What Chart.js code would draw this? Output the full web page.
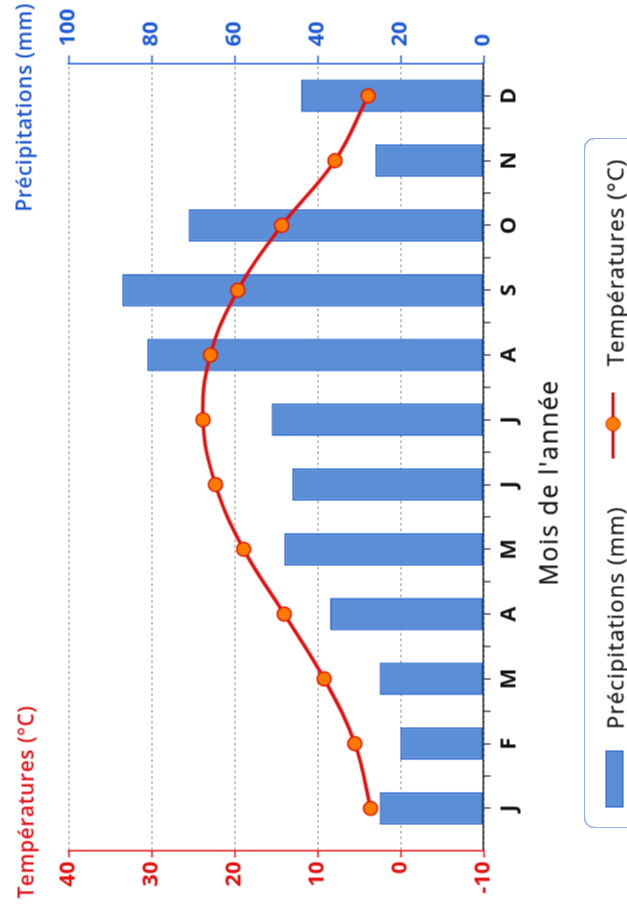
<!DOCTYPE html>
<html>
<head>
<meta charset="utf-8">
<script src="https://cdn.jsdelivr.net/npm/chart.js@4.4.1/dist/chart.umd.min.js"></script>
<style>
  html, body { margin: 0; padding: 0; background: #fff; overflow: hidden; width: 627px; height: 920px; }
  #wrap { position: absolute; left: -146.5px; top: 146.5px; width: 920px; height: 627px;
          transform: rotate(-90deg); overflow: hidden; background: #fff;
          font-family: "Open Sans", "DejaVu Sans", sans-serif; }
  #c { display: block; }
  .ttl { position: absolute; font-size: 21px; line-height: 25px; font-weight: 600; letter-spacing: 0.5px; white-space: nowrap; }
  #xtitle { position: absolute; left: 238px; width: 400px; top: 532px; text-align: center;
            font-size: 25px; line-height: 30px; letter-spacing: 1.6px; color: #111; white-space: nowrap; -webkit-text-stroke: 0.3px #111; }
  #legend { position: absolute; left: 92px; top: 583px; width: 691px; height: 90px;
            border: 1.5px solid #2b66d2; border-radius: 12px; box-sizing: border-box; }
  #legend .txt { position: absolute; top: 16.5px; font-size: 22px; line-height: 26px; letter-spacing: 1.2px; color: #151515; white-space: nowrap; -webkit-text-stroke: 0.3px #151515; }
</style>
</head>
<body>
<div id="wrap">
  <canvas id="c" width="920" height="627"></canvas>
  <div class="ttl" style="left:22px; top:12.5px; color:#e3141b;">Températures (°C)</div>
  <div class="ttl" style="right:2.5px; top:10.5px; color:#1f58d2;">Précipitations (mm)</div>
  <div id="xtitle">Mois de l'année</div>
  <div id="legend">
    <span style="position:absolute; left:20px; top:20.5px; width:57px; height:18px; background:#5a8fd8; border:1.5px solid #1e5cc8; box-sizing:border-box;"></span>
    <span class="txt" style="left:98.5px;">Précipitations (mm)</span>
    <span style="position:absolute; left:368.5px; top:27px; width:66px; height:3px; background:#e01010;"></span>
    <span style="position:absolute; left:396px; top:21px; width:15px; height:15px; border-radius:50%; background:#ff7b00; border:1.5px solid #e01a00; box-sizing:border-box;"></span>
    <span class="txt" style="left:461.5px;">Températures (°C)</span>
  </div>
</div>
<script>
const months = ['J', 'F', 'M', 'A', 'M', 'J', 'J', 'A', 'S', 'O', 'N', 'D'];
const precipitation = [25, 20, 25, 37, 48, 46, 51, 81, 87, 71, 26, 44];
const temperature = [3.6, 5.5, 9.2, 14.0, 18.9, 22.3, 23.8, 22.9, 19.6, 14.3, 7.9, 3.9];
const tempTicks = [-10, 0, 10, 20, 30, 40];
const precipTicks = [0, 20, 40, 60, 80, 100];

const FONT = '"Open Sans", "DejaVu Sans", sans-serif';
const RED = '#e31010';
const BLUE = '#1f5bd6';

const boundaryTicks = {
  id: 'boundaryTicks',
  afterDraw(chart) {
    const s = chart.scales.x;
    const ctx = chart.ctx;
    ctx.save();
    ctx.strokeStyle = '#222';
    ctx.lineWidth = 1.2;
    for (let i = 0; i < months.length - 1; i++) {
      const px = s.getPixelForValue(i + 0.5);
      ctx.beginPath();
      ctx.moveTo(px, s.top);
      ctx.lineTo(px, s.top + 7);
      ctx.stroke();
    }
    ctx.restore();
  }
};

new Chart(document.getElementById('c'), {
  data: {
    datasets: [
      {
        type: 'line',
        label: 'Températures (°C)',
        data: temperature.map((y, i) => ({ x: i, y })),
        yAxisID: 'y',
        borderColor: '#e60f0f',
        borderWidth: 3.5,
        tension: 0.4,
        pointRadius: 7,
        pointBackgroundColor: '#ff7b00',
        pointBorderColor: '#e01a00',
        pointBorderWidth: 1.5,
        order: 0
      },
      {
        type: 'bar',
        label: 'Précipitations (mm)',
        data: precipitation.map((y, i) => ({ x: i, y })),
        yAxisID: 'y1',
        backgroundColor: '#5a8fd8',
        borderColor: '#1e5cc8',
        borderWidth: 1.5,
        borderSkipped: false,
        barPercentage: 0.5,
        categoryPercentage: 1,
        order: 1
      }
    ]
  },
  options: {
    responsive: false,
    animation: false,
    layout: { padding: { top: 68, bottom: 0, left: 0, right: 0 } },
    plugins: { legend: { display: false }, tooltip: { enabled: false } },
    scales: {
      x: {
        type: 'linear',
        offset: false,
        min: -0.65,
        max: 11.5,
        afterBuildTicks: s => { s.ticks = months.map((m, i) => ({ value: i })); },
        ticks: {
          autoSkip: false, maxRotation: 0, padding: 6, color: '#111',
          font: { family: FONT, size: 22, weight: 'bold' },
          callback: v => months[v] ?? ''
        },
        grid: { display: true, offset: false, drawOnChartArea: false, drawTicks: true, tickLength: 7, tickColor: '#222', tickWidth: 1.2 },
        border: { display: true, color: '#222', width: 1.5 },
        afterFit: s => { s.height = 144; }
      },
      y: {
        type: 'linear',
        position: 'left',
        min: -10,
        max: 40,
        afterBuildTicks: s => { s.ticks = tempTicks.map(v => ({ value: v })); },
        ticks: { color: RED, font: { family: FONT, size: 22, weight: 'bold' }, padding: 4 },
        grid: { color: '#808080', lineWidth: 1, drawTicks: true, tickLength: 7, tickColor: RED, tickWidth: 1.5 },
        border: { display: true, color: RED, width: 1.5, dash: [2.5, 3] },
        afterFit: s => { s.width = 70; }
      },
      y1: {
        type: 'linear',
        position: 'right',
        min: 0,
        max: 100,
        afterBuildTicks: s => { s.ticks = precipTicks.map(v => ({ value: v })); },
        ticks: { color: BLUE, font: { family: FONT, size: 22, weight: 'bold' }, padding: 9 },
        grid: { drawOnChartArea: false, drawTicks: true, tickLength: 8, tickColor: BLUE, tickWidth: 1.5 },
        border: { display: true, color: BLUE, width: 1.5 },
        afterFit: s => { s.width = 63; }
      }
    }
  },
  plugins: [boundaryTicks]
});
</script>
</body>
</html>
